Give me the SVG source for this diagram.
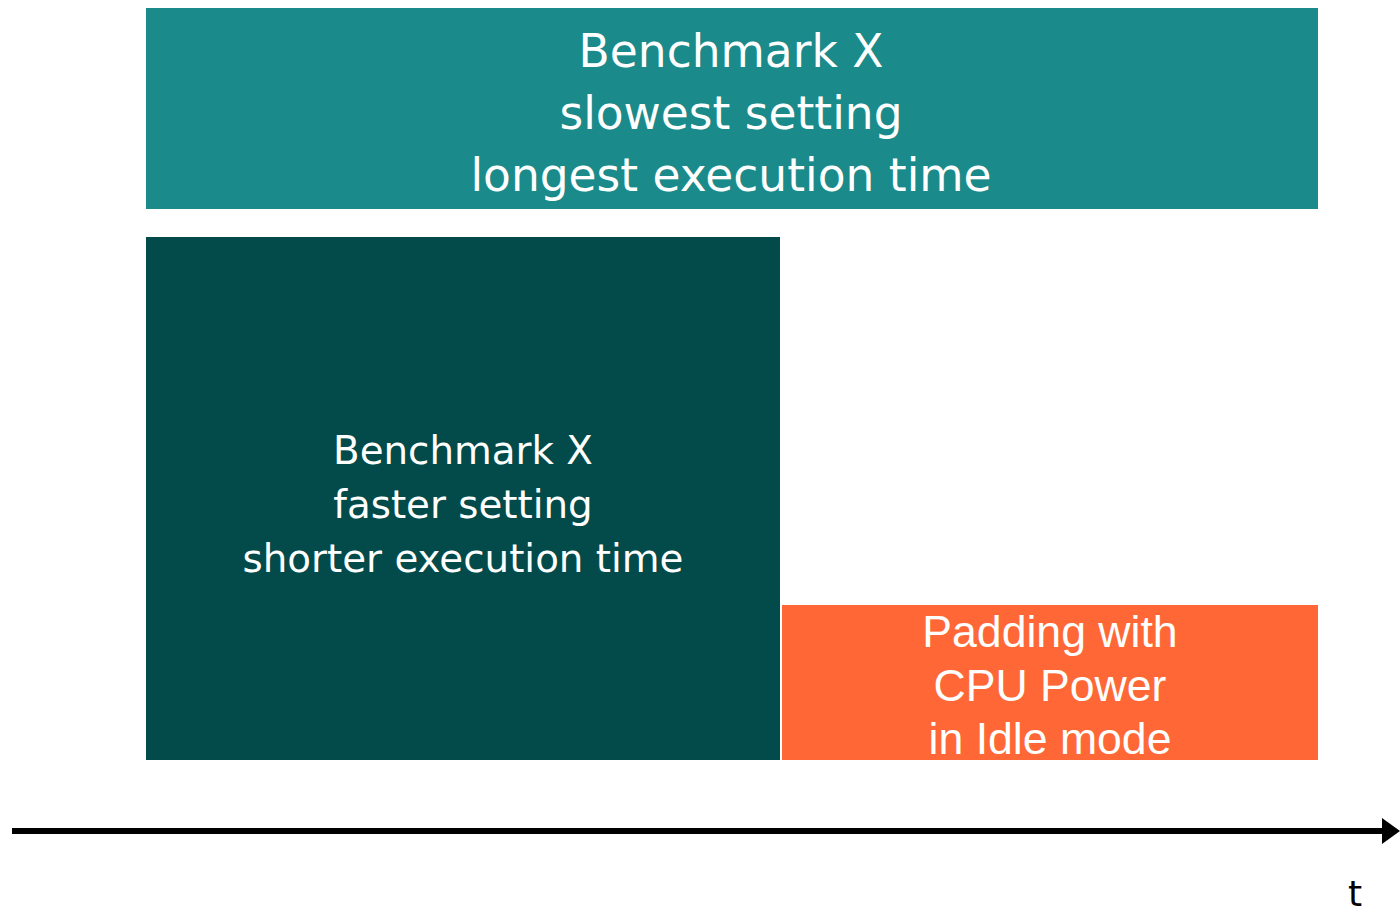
<svg xmlns="http://www.w3.org/2000/svg" width="1400" height="916" viewBox="0 0 1400 916">
<defs>
<style>
.lbl{font-family:"DejaVu Sans","Noto Sans",sans-serif;fill:#fff;text-anchor:middle}
.lbl2{font-family:"Liberation Sans",Arial,sans-serif;fill:#fff;text-anchor:middle}
</style>
<marker id="arr" markerUnits="userSpaceOnUse" markerWidth="20" markerHeight="26" refX="0" refY="13" orient="auto">
<path d="M0,0 L18,13 L0,26 Z" fill="#000"/>
</marker>
</defs>
<rect width="1400" height="916" fill="#fff"/>
<g id="slowest">
<rect x="146" y="8" width="1172" height="201" fill="#1B8A8A"/>
<text class="lbl" x="731" y="67" font-size="45.5">Benchmark X</text>
<text class="lbl" x="731" y="129" font-size="45.5">slowest setting</text>
<text class="lbl" x="731" y="191" font-size="45.5">longest execution time</text>
</g>
<g id="faster">
<rect x="146" y="237" width="634" height="523" fill="#024B4A"/>
<text class="lbl" x="463" y="464" font-size="38.8">Benchmark X</text>
<text class="lbl" x="463" y="518" font-size="38.8">faster setting</text>
<text class="lbl" x="463" y="572" font-size="38.8">shorter execution time</text>
</g>
<g id="padding">
<rect x="782" y="605" width="536" height="155" fill="#FF6836"/>
<text class="lbl2" x="1050" y="647" font-size="44.6">Padding with</text>
<text class="lbl2" x="1050" y="701" font-size="44.6">CPU Power</text>
<text class="lbl2" x="1050" y="754" font-size="44.6">in Idle mode</text>
</g>
<g id="connectors">
<line x1="12" y1="831" x2="1382" y2="831" stroke="#000" stroke-width="6" marker-end="url(#arr)"/>
</g>
<text x="1355" y="906" font-family="DejaVu Sans,sans-serif" font-size="36" text-anchor="middle">t</text>
</svg>
